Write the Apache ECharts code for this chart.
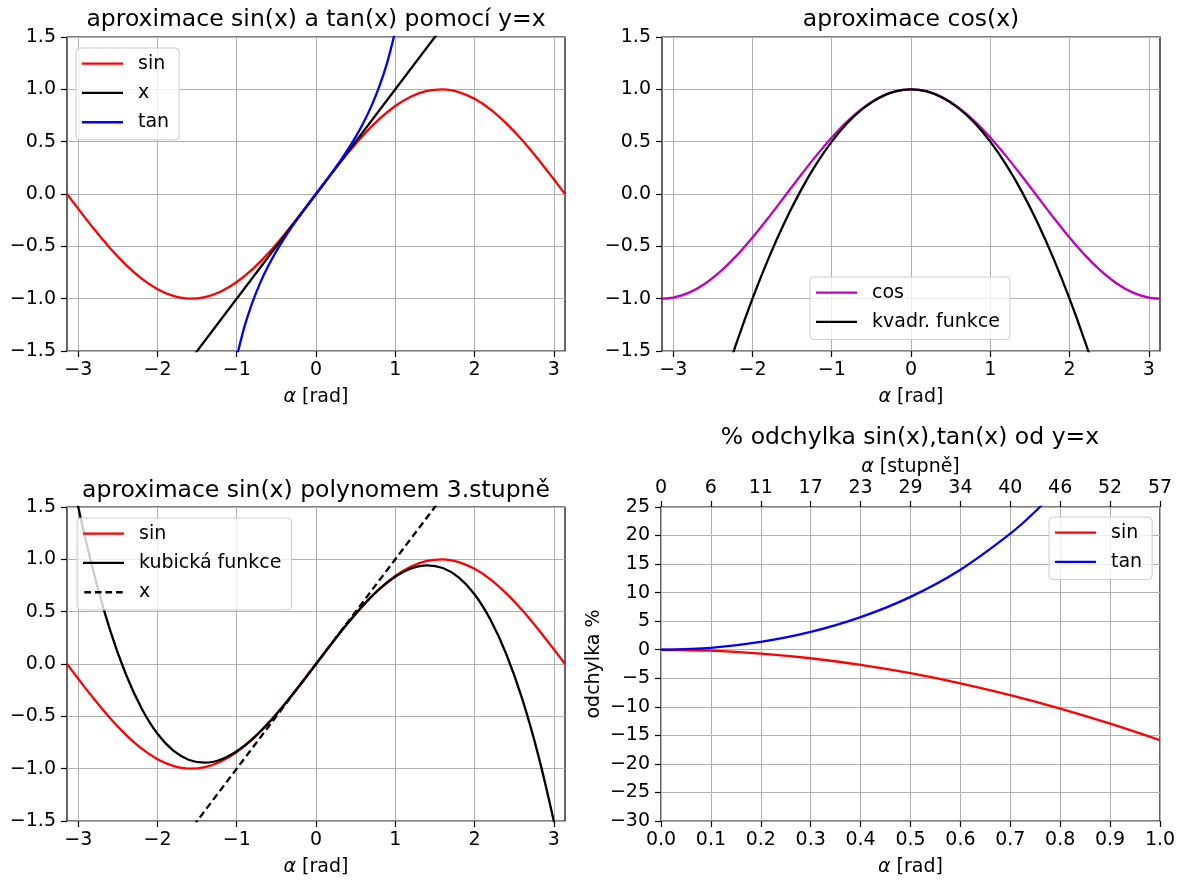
<!DOCTYPE html>
<html>
<head>
<meta charset="utf-8">
<script src="https://cdn.jsdelivr.net/npm/echarts@6/dist/echarts.min.js"></script>
<style>
  html, body { margin: 0; padding: 0; background: #fff; }
  #chart { width: 1182px; height: 882px; }
</style>
</head>
<body>
<div id="chart"></div>
<script>
// Sample points (radians) shared by the sin, cos and cubic curves
const xs = [-3.1416, -3.0, -2.8, -2.6, -2.4, -2.2, -2.0, -1.8, -1.6, -1.4, -1.2, -1.0, -0.8, -0.6, -0.4, -0.2, 0,
            0.2, 0.4, 0.6, 0.8, 1.0, 1.2, 1.4, 1.6, 1.8, 2.0, 2.2, 2.4, 2.6, 2.8, 3.0, 3.1416];
const sinVals = [0, -0.141, -0.335, -0.516, -0.675, -0.809, -0.909, -0.974, -1.000, -0.985, -0.932, -0.841, -0.717, -0.565, -0.389, -0.199, 0,
                 0.199, 0.389, 0.565, 0.717, 0.841, 0.932, 0.985, 1.000, 0.974, 0.909, 0.809, 0.675, 0.516, 0.335, 0.141, 0];
const cosVals = [-1.000, -0.990, -0.942, -0.857, -0.737, -0.589, -0.416, -0.227, -0.029, 0.170, 0.362, 0.540, 0.697, 0.825, 0.921, 0.980, 1.000,
                 0.980, 0.921, 0.825, 0.697, 0.540, 0.362, 0.170, -0.029, -0.227, -0.416, -0.589, -0.737, -0.857, -0.942, -0.990, -1.000];
const cubicVals = [2.026, 1.500, 0.859, 0.329, -0.096, -0.425, -0.667, -0.828, -0.917, -0.943, -0.912, -0.833, -0.715, -0.564, -0.389, -0.199, 0,
                   0.199, 0.389, 0.564, 0.715, 0.833, 0.912, 0.943, 0.917, 0.828, 0.667, 0.425, 0.096, -0.329, -0.859, -1.500, -2.026];

// Straight line y = x (end points, clipped by the plot frame)
const identX = [-3.1416, 3.1416];
const identVals = [-3.1416, 3.1416];

// tan near zero
const tanX = [-1.0, -0.9, -0.8, -0.7, -0.6, -0.5, -0.4, -0.3, -0.2, -0.1, 0, 0.1, 0.2, 0.3, 0.4, 0.5, 0.6, 0.7, 0.8, 0.9, 1.0];
const tanVals = [-1.557, -1.260, -1.030, -0.842, -0.684, -0.546, -0.423, -0.309, -0.203, -0.100, 0,
                 0.100, 0.203, 0.309, 0.423, 0.546, 0.684, 0.842, 1.030, 1.260, 1.557];

// Quadratic approximation of cos
const quadX = [-2.4, -2.2, -2.0, -1.8, -1.6, -1.4, -1.2, -1.0, -0.8, -0.6, -0.4, -0.2, 0, 0.2, 0.4, 0.6, 0.8, 1.0, 1.2, 1.4, 1.6, 1.8, 2.0, 2.2, 2.4];
const quadVals = [-1.88, -1.42, -1.00, -0.62, -0.28, 0.02, 0.28, 0.50, 0.68, 0.82, 0.92, 0.98, 1.00,
                  0.98, 0.92, 0.82, 0.68, 0.50, 0.28, 0.02, -0.28, -0.62, -1.00, -1.42, -1.88];

// Percent deviation from y = x
const pctX = [0, 0.1, 0.2, 0.3, 0.4, 0.5, 0.6, 0.7, 0.8, 0.9, 1.0];
const sinPct = [0, -0.17, -0.67, -1.49, -2.65, -4.11, -5.89, -7.97, -10.33, -12.96, -15.85];
const tanPctX = [0, 0.1, 0.2, 0.3, 0.4, 0.5, 0.6, 0.7, 0.75, 0.8];
const tanPct = [0, 0.33, 1.36, 3.11, 5.70, 9.26, 14.02, 20.33, 24.21, 28.70];

// Tick labels
const radTicks = [-3, -2, -1, 0, 1, 2, 3];
const degLabels = ['0', '6', '11', '17', '23', '29', '34', '40', '46', '52', '57'];

const titles = [
  'aproximace sin(x) a tan(x) pomocí y=x',
  'aproximace cos(x)',
  'aproximace sin(x) polynomem 3.stupně',
  '% odchylka sin(x),tan(x) od y=x'
];

const FONT = 'DejaVu Sans';
const TICK_FS = 19;
const LW = 2.3;

const zip = (a, b) => a.map((v, i) => [v, b[i]]);
const minus = s => String(s).replace('-', '\u2212');

const grids = [
  { left: 67, top: 37, width: 498, height: 314 },
  { left: 662, top: 37, width: 498, height: 314 },
  { left: 67, top: 507, width: 498, height: 314 },
  { left: 661, top: 507, width: 499, height: 314 }
].map(g => Object.assign(g, { show: true, borderColor: '#000', borderWidth: 1.2, containLabel: false }));

const labelStyle = { color: '#000', fontSize: TICK_FS, fontFamily: FONT };
const tickStyle = { show: true, length: 6, lineStyle: { color: '#000', width: 1.2 } };
const gridLine = { show: true, lineStyle: { color: '#b0b0b0', width: 1 } };
const hiddenLine = { show: false, onZero: false };
const nameStyle = {
  color: '#000', fontSize: TICK_FS, fontFamily: FONT,
  rich: { a: { fontStyle: 'italic', fontSize: TICK_FS, fontFamily: FONT, color: '#000' } }
};

function radAxis(gi) {
  return {
    type: 'value', gridIndex: gi, min: -Math.PI, max: Math.PI,
    axisLine: hiddenLine,
    axisTick: Object.assign({ customValues: radTicks }, tickStyle),
    axisLabel: Object.assign({ customValues: radTicks, margin: 10, formatter: v => minus(v) }, labelStyle),
    splitLine: gridLine,
    name: '{a|α} [rad]', nameLocation: 'middle', nameGap: 37, nameTextStyle: nameStyle
  };
}
function unitAxis(gi) {
  return {
    type: 'value', gridIndex: gi, min: -1.5, max: 1.5, interval: 0.5,
    axisLine: hiddenLine,
    axisTick: tickStyle,
    axisLabel: Object.assign({ margin: 11, formatter: v => minus(v.toFixed(1)) }, labelStyle),
    splitLine: gridLine
  };
}

const xAxes = [
  radAxis(0), radAxis(1), radAxis(2),
  {
    type: 'value', gridIndex: 3, min: 0, max: 1, interval: 0.1,
    axisLine: hiddenLine, axisTick: tickStyle,
    axisLabel: Object.assign({ margin: 10, formatter: v => v.toFixed(1) }, labelStyle),
    splitLine: gridLine,
    name: '{a|α} [rad]', nameLocation: 'middle', nameGap: 37, nameTextStyle: nameStyle
  },
  {
    type: 'value', gridIndex: 3, position: 'top', min: 0, max: 1, interval: 0.1,
    axisLine: hiddenLine, axisTick: tickStyle,
    axisLabel: Object.assign({ margin: 9, formatter: v => degLabels[Math.round(v * 10)] }, labelStyle),
    splitLine: { show: false },
    name: '{a|α} [stupně]', nameLocation: 'middle', nameGap: 30, nameTextStyle: nameStyle
  }
];
const yAxes = [
  unitAxis(0), unitAxis(1), unitAxis(2),
  {
    type: 'value', gridIndex: 3, min: -30, max: 25, interval: 5,
    axisLine: hiddenLine, axisTick: tickStyle,
    axisLabel: Object.assign({ margin: 11, formatter: v => minus(v) }, labelStyle),
    splitLine: gridLine,
    name: 'odchylka %', nameLocation: 'middle', nameGap: 57, nameTextStyle: nameStyle
  }
];

function line(name, gi, data, color, extra) {
  return Object.assign({
    type: 'line', name, xAxisIndex: gi, yAxisIndex: gi, data,
    symbol: 'none', smooth: 0.3, clip: true, z: 2,
    itemStyle: { color },
    lineStyle: { color, width: LW }
  }, extra || {});
}

const series = [
  line('sin', 0, zip(xs, sinVals), '#ff0000'),
  line('x', 0, zip(identX, identVals), '#000000', { smooth: false }),
  line('tan', 0, zip(tanX, tanVals), '#0000ff'),

  line('cos', 1, zip(xs, cosVals), '#bf00bf'),
  line('kvadr. funkce', 1, zip(quadX, quadVals), '#000000'),

  line('sin', 2, zip(xs, sinVals), '#ff0000'),
  line('kubická funkce', 2, zip(xs, cubicVals), '#000000'),
  line('x', 2, zip(identX, identVals), '#000000', { smooth: false, lineStyle: { color: '#000', width: LW, type: [7, 4] } }),

  line('sin', 3, zip(pctX, sinPct), '#ff0000'),
  line('tan', 3, zip(tanPctX, tanPct), '#0000ff')
];

const dashedIcon = 'path://M0,0h7v2.4h-7z M11,0h7v2.4h-7z M22,0h7v2.4h-7z M33,0h7v2.4h-7z';
const legendBase = {
  orient: 'vertical', icon: 'rect', itemWidth: 41, itemHeight: 2.3, itemGap: 0,
  padding: [1, 10, 3, 6], backgroundColor: 'rgba(255,255,255,0.8)',
  borderColor: '#cccccc', borderWidth: 1, borderRadius: 4,
  selectedMode: false, itemStyle: { borderWidth: 0 },
  textStyle: { color: '#000', fontSize: TICK_FS, fontFamily: FONT, lineHeight: 29.3, padding: [0, 0, 0, 10] }
};
const legends = [
  Object.assign({ left: 76, top: 48, data: ['sin', 'x', 'tan'] }, legendBase),
  Object.assign({ left: 810, top: 277, data: ['cos', 'kvadr. funkce'] }, legendBase),
  Object.assign({ left: 77, top: 518, data: ['sin', 'kubická funkce', { name: 'x', icon: dashedIcon }] }, legendBase),
  Object.assign({ left: 1049, top: 517, data: ['sin', 'tan'] }, legendBase)
];

const titlePos = [[316, 20], [911, 20], [316, 491], [910, 438]];
const graphics = titles.map((t, i) => ({
  type: 'text', x: titlePos[i][0], y: titlePos[i][1], silent: true,
  style: { text: t, fill: '#000', fontSize: 23.5, fontFamily: FONT, align: 'center', verticalAlign: 'middle' }
}));

const chart = echarts.init(document.getElementById('chart'), null, { renderer: 'canvas' });
chart.setOption({
  animation: false,
  backgroundColor: '#ffffff',
  grid: grids,
  xAxis: xAxes,
  yAxis: yAxes,
  legend: legends,
  graphic: graphics,
  series
});
</script>
</body>
</html>
